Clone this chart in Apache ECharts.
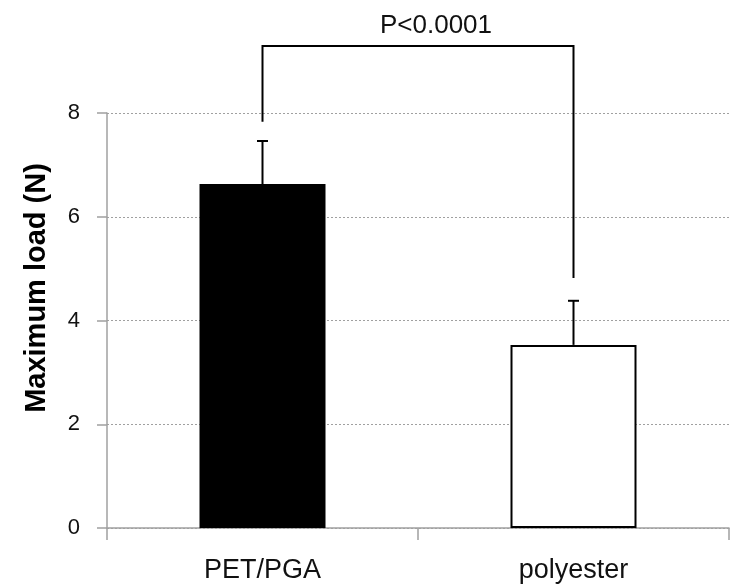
<!DOCTYPE html>
<html>
<head>
<meta charset="utf-8">
<script src="https://cdn.jsdelivr.net/npm/echarts@6/dist/echarts.min.js"></script>
<style>html,body{margin:0;padding:0;background:#fff}#c{width:734px;height:586px}</style>
</head>
<body>
<div id="c"></div>
<script>
var categories = ['PET/PGA', 'polyester'];
var means = [6.63, 3.53];
var errorsUp = [0.83, 0.85];
var barColors = ['#000000', '#ffffff'];
var yTicks = [0, 2, 4, 6, 8];
// bracket: [fromIndex, toIndex, leftEndValue, rightEndValue, topValue]
var bracket = [0, 1, 7.83, 4.82, 9.29];
var pLabel = 'P<0.0001';
var yAxisTitle = 'Maximum load (N)';

var font = 'Arial, "Liberation Sans", sans-serif';
var chart = echarts.init(document.getElementById('c'), null, {renderer: 'canvas'});

var barData = means.map(function (v, i) {
  return {
    value: v,
    itemStyle: {color: barColors[i], borderColor: '#000', borderWidth: i === 1 ? 2 : 0}
  };
});
var errData = means.map(function (v, i) { return [i, v, v + errorsUp[i]]; });

chart.setOption({
  animation: false,
  title: {
    text: pLabel, left: 431, top: 8, textAlign: 'center',
    textStyle: {fontFamily: font, fontSize: 26, fontWeight: 'normal', color: '#111'}
  },
  graphic: [{
    type: 'text', x: 37, y: 288, rotation: Math.PI / 2,
    style: {text: yAxisTitle, fontFamily: font, fontSize: 29, fontWeight: 'bold',
      fill: '#000', align: 'center', verticalAlign: 'middle'}
  }],
  grid: {left: 107, right: 5, top: 113, bottom: 58},
  xAxis: {
    type: 'category', data: categories,
    axisLine: {lineStyle: {color: '#a0a0a0', width: 1.5}},
    axisTick: {show: true, length: 12, lineStyle: {color: '#a0a0a0', width: 1.5}},
    axisLabel: {fontFamily: font, fontSize: 27, color: '#111', margin: 29}
  },
  yAxis: {
    type: 'value', min: 0, max: 8, interval: 2,
    axisLine: {show: true, lineStyle: {color: '#a0a0a0', width: 1.5}},
    axisTick: {show: true, length: 10, lineStyle: {color: '#a0a0a0', width: 1.5}},
    axisLabel: {fontFamily: font, fontSize: 22, color: '#111', margin: 27,
      formatter: function (v) { return yTicks.indexOf(v) >= 0 ? String(v) : ''; }},
    splitLine: {show: true, lineStyle: {color: '#a0a0a0', type: [2, 2], width: 1}}
  },
  series: [
    {type: 'bar', data: barData, barWidth: 126, z: 2},
    {
      type: 'custom', z: 3, clip: false,
      data: errData,
      renderItem: function (params, api) {
        var x = api.coord([api.value(0), api.value(1)])[0];
        var y0 = api.coord([api.value(0), api.value(1)])[1];
        var y1 = api.coord([api.value(0), api.value(2)])[1];
        var hw = 5.5;
        return {
          type: 'group',
          children: [
            {type: 'line', shape: {x1: x, y1: y0, x2: x, y2: y1}, style: {stroke: '#000', lineWidth: 2}},
            {type: 'line', shape: {x1: x - hw, y1: y1, x2: x + hw, y2: y1}, style: {stroke: '#000', lineWidth: 2}}
          ]
        };
      }
    },
    {
      type: 'custom', z: 4, clip: false,
      data: [bracket],
      renderItem: function (params, api) {
        var pL = api.coord([api.value(0), api.value(2)]);
        var pR = api.coord([api.value(1), api.value(3)]);
        var top = api.coord([api.value(0), api.value(4)])[1];
        return {
          type: 'polyline',
          shape: {points: [[pL[0], pL[1]], [pL[0], top], [pR[0], top], [pR[0], pR[1]]]},
          style: {stroke: '#000', lineWidth: 2, fill: null}
        };
      }
    }
  ]
});
</script>
</body>
</html>
